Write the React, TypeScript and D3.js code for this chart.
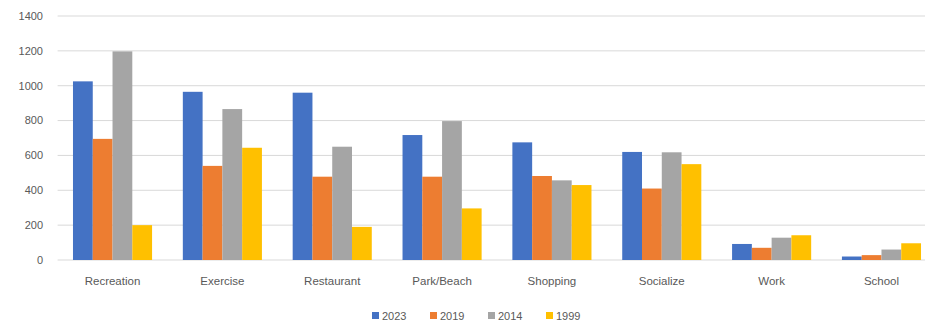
import React from "react";
import * as d3 from "d3";

// 카테고리 / 시리즈 데이터
const categories = ["Recreation", "Exercise", "Restaurant", "Park/Beach", "Shopping", "Socialize", "Work", "School"];
const seriesNames = ["2023", "2019", "2014", "1999"];
const values2023 = [1025, 965, 960, 717, 675, 620, 92, 20];
const values2019 = [695, 540, 478, 478, 482, 410, 70, 28];
const values2014 = [1197, 866, 650, 797, 457, 618, 128, 60];
const values1999 = [200, 644, 190, 296, 430, 550, 142, 96];
const yTicks = [0, 200, 400, 600, 800, 1000, 1200, 1400];

const colors = ["#4472C4", "#ED7D31", "#A5A5A5", "#FFC000"];

const W = 925;
const H = 322;
const margin = { top: 16, left: 57.6, right: -11.4, bottom: 62 };
const font = "'Liberation Sans', Arial, sans-serif";

export default function App() {
  const seriesValues = [values2023, values2019, values2014, values1999];

  const x = d3
    .scaleBand<string>()
    .domain(categories)
    .range([margin.left, W - margin.right])
    .paddingInner(0.28)
    .paddingOuter(0.14);

  const xSub = d3
    .scaleBand<string>()
    .domain(seriesNames)
    .range([0, x.bandwidth()]);

  const y = d3
    .scaleLinear()
    .domain([0, 1400])
    .range([H - margin.bottom, margin.top]);

  // 범례 위치
  const legendX = d3.scalePoint<string>().domain(seriesNames).range([372, 546]);

  return (
    <svg
      width={W}
      height={H}
      style={{ position: "absolute", left: 0, top: 0, background: "#fff" }}
      fontFamily={font}
    >
      {/* 그리드 */}
      {yTicks.map((t) => (
        <g key={t}>
          <line x1={margin.left} x2={W} y1={y(t)} y2={y(t)} stroke="#D9D9D9" strokeWidth={1} />
          <text x={43} y={y(t)} dy="0.35em" textAnchor="end" fontSize={11} fill="#595959">
            {t}
          </text>
        </g>
      ))}

      {/* 막대 */}
      {categories.map((c, i) => (
        <g key={c} transform={`translate(${x(c)},0)`}>
          {seriesNames.map((s, j) => (
            <rect
              key={s}
              x={xSub(s)}
              width={xSub.bandwidth()}
              y={y(seriesValues[j][i])}
              height={y(0) - y(seriesValues[j][i])}
              fill={colors[j]}
            />
          ))}
          <text x={x.bandwidth() / 2} y={285} textAnchor="middle" fontSize={11.5} fill="#595959">
            {c}
          </text>
        </g>
      ))}

      {/* 범례 */}
      {seriesNames.map((s, j) => (
        <g key={s} transform={`translate(${legendX(s)},316)`}>
          <rect x={0} y={-4} width={7} height={7} fill={colors[j]} />
          <text x={10} y={0} dy="0.35em" fontSize={11} fill="#595959">
            {s}
          </text>
        </g>
      ))}
    </svg>
  );
}
